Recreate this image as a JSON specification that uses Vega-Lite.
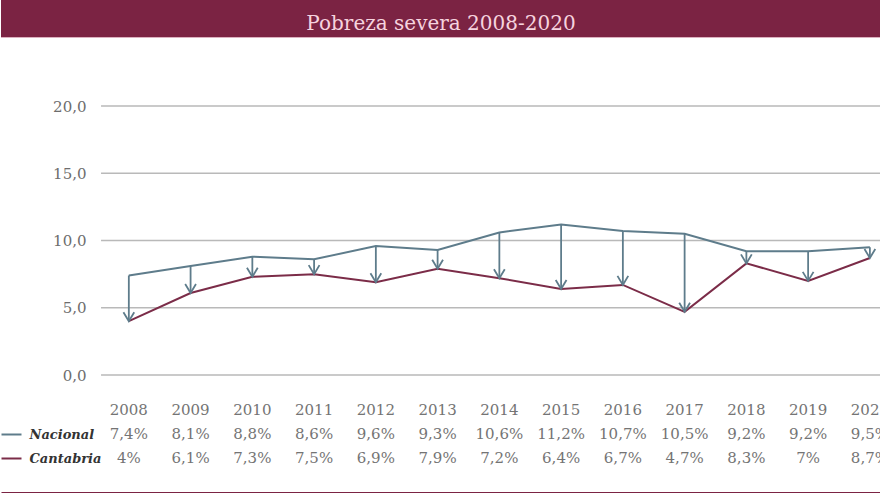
{
  "$schema": "https://vega.github.io/schema/vega-lite/v6.json",
  "padding": 0,
  "spacing": 0,
  "bounds": "flush",
  "background": "white",
  "config": {
    "view": {"stroke": null},
    "font": "DejaVu Serif"
  },
  "datasets": {
    "pobreza": [
      {"anio": 2008, "Nacional": 7.4, "Cantabria": 4},
      {"anio": 2009, "Nacional": 8.1, "Cantabria": 6.1},
      {"anio": 2010, "Nacional": 8.8, "Cantabria": 7.3},
      {"anio": 2011, "Nacional": 8.6, "Cantabria": 7.5},
      {"anio": 2012, "Nacional": 9.6, "Cantabria": 6.9},
      {"anio": 2013, "Nacional": 9.3, "Cantabria": 7.9},
      {"anio": 2014, "Nacional": 10.6, "Cantabria": 7.2},
      {"anio": 2015, "Nacional": 11.2, "Cantabria": 6.4},
      {"anio": 2016, "Nacional": 10.7, "Cantabria": 6.7},
      {"anio": 2017, "Nacional": 10.5, "Cantabria": 4.7},
      {"anio": 2018, "Nacional": 9.2, "Cantabria": 8.3},
      {"anio": 2019, "Nacional": 9.2, "Cantabria": 7},
      {"anio": 2020, "Nacional": 9.5, "Cantabria": 8.7}
    ],
    "rejilla": [{"v": 0}, {"v": 5}, {"v": 10}, {"v": 15}, {"v": 20}]
  },
  "vconcat": [
    {
      "width": 880,
      "height": 37,
      "view": {"fill": "#7b2343", "stroke": null},
      "data": {"values": [{"titulo": "Pobreza severa 2008-2020"}]},
      "mark": {"type": "text", "font": "DejaVu Serif", "fontSize": 20, "color": "#f6d3df", "baseline": "middle", "dy": 5},
      "encoding": {"text": {"field": "titulo"}}
    },
    {
      "width": 880,
      "height": 1,
      "view": {"fill": "#dcb0bf", "stroke": null},
      "data": {"values": [{}]},
      "mark": {"type": "text", "fontSize": 1},
      "encoding": {"text": {"value": ""}}
    },
    {
      "width": 880,
      "height": 337,
      "data": {"name": "pobreza"},
      "layer": [
        {
          "data": {"name": "rejilla"},
          "mark": {"type": "rule", "color": "#b9b9b9", "strokeWidth": 1.5},
          "encoding": {
            "x": {"datum": 2007.55, "type": "quantitative", "scale": {"domain": [2005.93, 2020.18], "nice": false, "zero": false}, "axis": null},
            "x2": {"datum": 2020.18},
            "y": {
              "field": "v", "type": "quantitative", "title": null,
              "scale": {"domain": [0, 25.06], "nice": false},
              "axis": {
                "values": [0, 5, 10, 15, 20],
                "offset": -100,
                "labelPadding": 15,
                "domain": false,
                "ticks": false,
                "grid": false,
                "labelExpr": "replace(format(datum.value, '.1f'), '.', ',')",
                "labelFontSize": 15,
                "labelColor": "#6d6d6d",
                "labelFont": "DejaVu Serif",
                "title": null
              }
            }
          }
        },
        {
          "transform": [{"fold": ["Nacional", "Cantabria"], "as": ["serie", "valor"]}],
          "mark": {"type": "line", "strokeWidth": 2},
          "encoding": {
            "x": {"field": "anio", "type": "quantitative", "axis": null},
            "y": {"field": "valor", "type": "quantitative", "title": null},
            "color": {
              "field": "serie", "type": "nominal",
              "scale": {"domain": ["Nacional", "Cantabria"], "range": ["#5e7c8b", "#7b2c48"]},
              "legend": null
            }
          }
        },
        {
          "mark": {"type": "rule", "color": "#5e7c8b", "strokeWidth": 1.8},
          "encoding": {
            "x": {"field": "anio", "type": "quantitative", "axis": null},
            "y": {"field": "Nacional", "type": "quantitative", "title": null},
            "y2": {"field": "Cantabria"}
          }
        },
        {
          "mark": {"type": "point", "shape": "M-0.6,-1L0,0L0.6,-1", "filled": false, "size": 324, "color": "#5e7c8b", "strokeWidth": 1.8, "opacity": 1},
          "encoding": {
            "x": {"field": "anio", "type": "quantitative", "axis": null},
            "y": {"field": "Cantabria", "type": "quantitative", "title": null}
          }
        }
      ]
    },
    {
      "width": 880,
      "height": 118,
      "data": {"name": "pobreza"},
      "layer": [
        {
          "mark": {"type": "text", "fontSize": 15, "color": "#747474", "baseline": "middle"},
          "encoding": {
            "x": {
              "field": "anio", "type": "quantitative",
              "scale": {"domain": [2005.93, 2020.18], "nice": false, "zero": false},
              "axis": {"domain": true, "domainColor": "#7b2343", "domainWidth": 3, "ticks": false, "labels": false, "grid": false, "title": null}
            },
            "y": {
              "datum": "Año", "type": "nominal",
              "scale": {"type": "point", "domain": ["Año", "Nacional", "Cantabria"], "range": [35, 83], "padding": 0},
              "axis": {
                "orient": "right",
                "offset": -880,
                "values": ["Nacional", "Cantabria"],
                "domain": false,
                "grid": false,
                "ticks": true,
                "tickSize": 20,
                "tickWidth": 2,
                "tickColor": {"condition": {"test": "datum.value === 'Nacional'", "value": "#5e7c8b"}, "value": "#7b2c48"},
                "labelPadding": 8,
                "labelFont": "DejaVu Serif",
                "labelFontStyle": "italic",
                "labelFontWeight": "bold",
                "labelFontSize": 13,
                "labelColor": "#333333",
                "title": null
              }
            },
            "text": {"field": "anio", "type": "nominal"}
          }
        },
        {
          "transform": [
            {"fold": ["Nacional", "Cantabria"], "as": ["serie", "valor"]},
            {"calculate": "replace(format(datum.valor, '.3~r'), '.', ',') + '%'", "as": "etiqueta"}
          ],
          "mark": {"type": "text", "fontSize": 15, "color": "#747474", "baseline": "middle"},
          "encoding": {
            "x": {"field": "anio", "type": "quantitative"},
            "y": {"field": "serie", "type": "nominal", "title": null},
            "text": {"field": "etiqueta", "type": "nominal"}
          }
        }
      ]
    }
  ]
}
